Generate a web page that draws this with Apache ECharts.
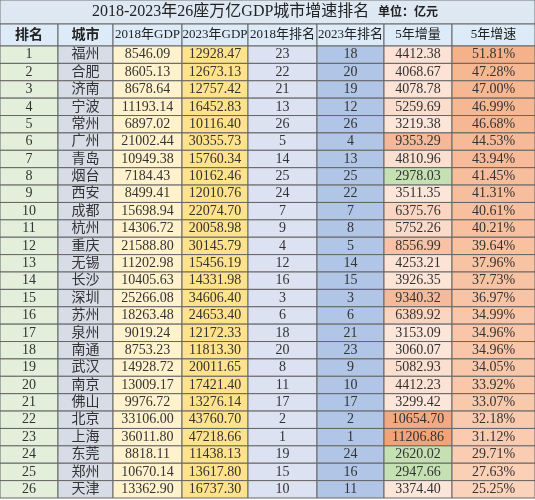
<!DOCTYPE html>
<html><head><meta charset="utf-8">
<script src="https://cdn.jsdelivr.net/npm/echarts@6/dist/echarts.min.js"></script>
<style>html,body{margin:0;padding:0;background:#fff}#c{width:535px;height:500px}</style>
</head><body><div id="c"></div>
<script>
const headers = ['排名','城市','2018年GDP','2023年GDP','2018年排名','2023年排名','5年增量','5年增速'];
const cities = ['福州','合肥','济南','宁波','常州','广州','青岛','烟台','西安','成都','杭州','重庆','无锡','长沙','深圳','苏州','泉州','南通','武汉','南京','佛山','北京','上海','东莞','郑州','天津'];
const gdp2018 = ['8546.09','8605.13','8678.64','11193.14','6897.02','21002.44','10949.38','7184.43','8499.41','15698.94','14306.72','21588.80','11202.98','10405.63','25266.08','18263.48','9019.24','8753.23','14928.72','13009.17','9976.72','33106.00','36011.80','8818.11','10670.14','13362.90'];
const gdp2023 = ['12928.47','12673.13','12757.42','16452.83','10116.40','30355.73','15760.34','10162.46','12010.76','22074.70','20058.98','30145.79','15456.19','14331.98','34606.40','24653.40','12172.33','11813.30','20011.65','17421.40','13276.14','43760.70','47218.66','11438.13','13617.80','16737.30'];
const rank2018 = [23,22,21,13,26,5,14,25,24,7,9,4,12,16,3,6,18,20,8,11,17,2,1,19,15,10];
const rank2023 = [18,20,19,12,26,4,13,25,22,7,8,5,14,15,3,6,21,23,9,10,17,2,1,24,16,11];
const inc5 = ['4412.38','4068.67','4078.78','5259.69','3219.38','9353.29','4810.96','2978.03','3511.35','6375.76','5752.26','8556.99','4253.21','3926.35','9340.32','6389.92','3153.09','3060.07','5082.93','4412.23','3299.42','10654.70','11206.86','2620.02','2947.66','3374.40'];
const rate5 = ['51.81%','47.28%','47.00%','46.99%','46.68%','44.53%','43.94%','41.45%','41.31%','40.61%','40.21%','39.64%','37.96%','37.73%','36.97%','34.99%','34.96%','34.96%','34.05%','33.92%','33.07%','32.18%','31.12%','29.71%','27.63%','25.25%'];

// layout (pixel edges of columns)
const colEdges = [0,58,113,182,248,317,384,452,535];
function mix(a,b,t){const pa=[1,3,5].map(i=>parseInt(a.substr(i,2),16)),pb=[1,3,5].map(i=>parseInt(b.substr(i,2),16));return 'rgb('+pa.map((v,i)=>Math.round(v+(pb[i]-v)*t)).join(',')+')';}
function incColor(v){v=+v; if(v<3000) return '#c5e0b3'; const t=Math.min(1,Math.max(0,(v-3000)/8200)); return mix('#fce6da','#f2a378',Math.pow(t,1.6));}
function rateColor(s){const v=parseFloat(s);const t=(v-25)/27;return mix('#fbd3bb','#f5b18a',t);}
const cells=[];
for(let r=0;r<cities.length;r++){
  const texts=[String(r+1),cities[r],gdp2018[r],gdp2023[r],String(rank2018[r]),String(rank2023[r]),inc5[r],rate5[r]];
  const fills=['#e3efda','#d8dce6','#fff2cc','#ffe28c','#dce2f2','#b1c5e6',incColor(inc5[r]),rateColor(rate5[r])];
  texts.forEach((t,c)=>cells.push({value:[c,r],txt:t,fill:fills[c]}));
}
const chart=echarts.init(document.getElementById('c'));
const font='"Liberation Serif","DejaVu Serif","Noto Sans CJK SC",serif';
chart.setOption({
  animation:false,
  grid:{left:0,right:0,top:46,bottom:2},
  xAxis:{type:'value',min:0,max:535,show:false},
  yAxis:{type:'category',data:cities.map((_,i)=>i),inverse:true,show:false},
  graphic:[
    {type:'rect',shape:{x:0,y:0,width:535,height:24},style:{fill:'#dde8f3',stroke:'#777',lineWidth:1}},
    {type:'text',x:92,y:12,style:{text:'2018-2023年26座万亿GDP城市增速排名',font:'16px '+font,fill:'#222',verticalAlign:'middle'}},
    {type:'text',x:378,y:13,style:{text:'单位：亿元',font:'bold 12px '+font,fill:'#222',verticalAlign:'middle'}},
    ...headers.map((h,i)=>({type:'rect',shape:{x:colEdges[i],y:24,width:colEdges[i+1]-colEdges[i],height:22},style:{fill:'#dcebf7',stroke:'#666',lineWidth:1}})),
    ...headers.map((h,i)=>({type:'text',x:(colEdges[i]+colEdges[i+1])/2,y:35,style:{text:h,font:(i<2?'bold 14px ':'13px ')+font,fill:'#222',align:'center',verticalAlign:'middle'}}))
  ],
  series:[{
    type:'custom',
    data:cells,
    renderItem:function(params,api){
      const d=cells[params.dataIndex];
      const c=d.value[0];
      const p0=api.coord([colEdges[c],d.value[1]]);
      const p1=api.coord([colEdges[c+1],d.value[1]]);
      const h=api.size([0,1])[1];
      return {type:'group',children:[
        {type:'rect',shape:{x:p0[0],y:p0[1]-h/2,width:p1[0]-p0[0],height:h},style:{fill:d.fill,stroke:'#666',lineWidth:1}},
        {type:'text',style:{x:(p0[0]+p1[0])/2,y:p0[1],text:d.txt,font:'14px '+font,fill:'#333',align:'center',verticalAlign:'middle'}}
      ]};
    }
  }]
});
</script></body></html>
